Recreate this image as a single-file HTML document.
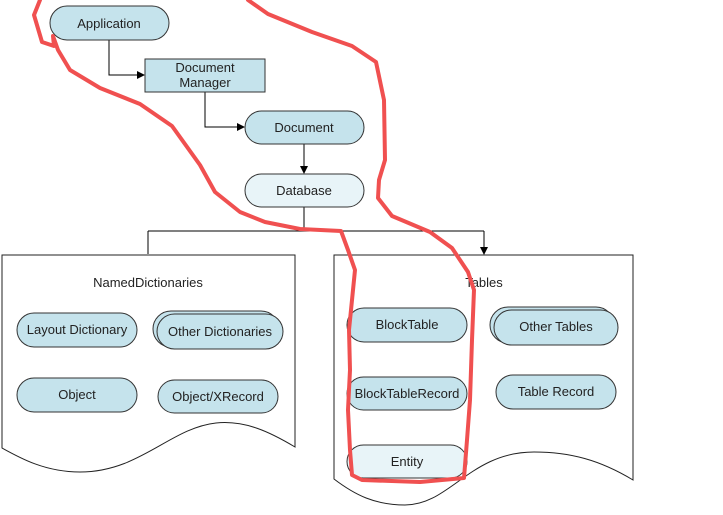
<!DOCTYPE html>
<html><head><style>body{margin:0;background:#fff}svg{display:block}text{font-family:"Liberation Sans",Arial,sans-serif;font-size:13px;fill:#222;text-anchor:middle}</style></head><body>
<svg width="723" height="515" viewBox="0 0 723 515">
<defs><marker id="a" markerWidth="8" markerHeight="8" refX="7" refY="4" orient="auto" markerUnits="userSpaceOnUse"><path d="M0,0L8,4L0,8z" fill="#000"/></marker></defs>
<g stroke="#000" stroke-width="1" fill="none">
<path d="M109,40V75H144" marker-end="url(#a)"/>
<path d="M205,92V127H244" marker-end="url(#a)"/>
<path d="M304,144V173" marker-end="url(#a)"/>
<path d="M304,207V231M148,231H484M148,231V254M484,231V254" />
<path d="M148,246V254M484,246V254" marker-end="url(#a)"/>
<path d="M77,347V378" marker-end="url(#a)"/>
<path d="M218,349V380" marker-end="url(#a)"/>
<path d="M405,342V376" marker-end="url(#a)"/>
<path d="M405,410V444" marker-end="url(#a)"/>
<path d="M555,345V374" marker-end="url(#a)"/>
</g>
<g stroke="#222" stroke-width="1" fill="#fff">
<path d="M2,255H295V447C270,432 245,420 216,423C170,428 140,472 80,472C45,472 20,458 2,448Z"/>
<path d="M334,255H633V480C600,460 570,452 534,452C470,452 450,505 405,505C375,505 355,495 334,479Z"/>
</g>
<text x="148" y="287">NamedDictionaries</text>
<text x="484" y="287">Tables</text>
<g stroke="#333" stroke-width="1" fill="#c5e3ec">
<rect x="50" y="6" width="119" height="34" rx="17"/>
<rect x="145" y="59" width="120" height="33"/>
<rect x="245" y="111" width="119" height="33" rx="16.5"/>
<rect x="245" y="174" width="119" height="33" rx="16.5" fill="#e8f4f8"/>
<rect x="17" y="313" width="120" height="34" rx="17"/>
<rect x="17" y="378" width="120" height="34" rx="17"/>
<rect x="153" y="311" width="126" height="36" rx="18"/>
<rect x="157" y="314" width="126" height="35" rx="17.5"/>
<rect x="158" y="380" width="120" height="33" rx="16.5"/>
<rect x="347" y="308" width="120" height="34" rx="17"/>
<rect x="347" y="377" width="120" height="33" rx="16.5"/>
<rect x="347" y="445" width="120" height="33" rx="16.5" fill="#e8f4f8"/>
<rect x="490" y="307" width="124" height="36" rx="18"/>
<rect x="494" y="310" width="124" height="35" rx="17.5"/>
<rect x="496" y="375" width="120" height="34" rx="17"/>
</g>
<text x="109" y="28">Application</text>
<text x="205" y="72">Document</text>
<text x="205" y="87">Manager</text>
<text x="304" y="132">Document</text>
<text x="304" y="195">Database</text>
<text x="77" y="334">Layout Dictionary</text>
<text x="77" y="399">Object</text>
<text x="220" y="336">Other Dictionaries</text>
<text x="218" y="401">Object/XRecord</text>
<text x="407" y="329">BlockTable</text>
<text x="407" y="398">BlockTableRecord</text>
<text x="407" y="466">Entity</text>
<text x="556" y="331">Other Tables</text>
<text x="556" y="396">Table Record</text>
<path d="M40,0L34,15L42,42L54,46L53,36L58,50L70,70L100,88L140,104L172,126L200,165L215,192L240,212L265,222L300,229L341,231L348,250L355,270L352,300L349,330L350,370L348,410L350,450L352,475L362,480L420,482L464,478L467,440L470,400L472,340L474,290L468,272L452,248L430,232L392,216L378,198L379,180L385,160L384,100L376,62L352,46L312,32L268,14L248,0" fill="none" stroke="#f05050" stroke-width="4" stroke-linejoin="round" stroke-linecap="round"/>
</svg>
</body></html>
